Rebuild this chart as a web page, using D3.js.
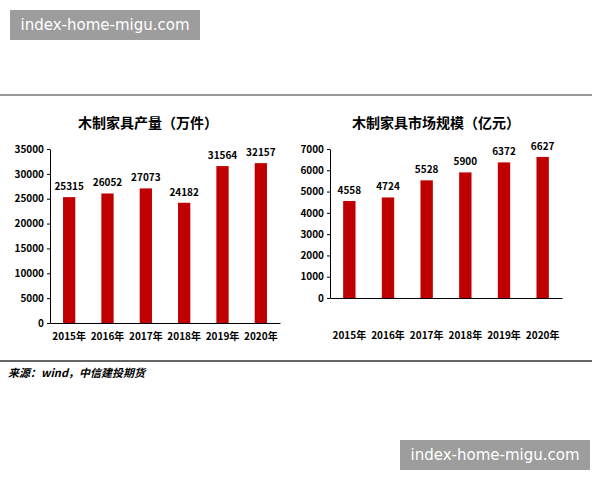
<!DOCTYPE html>
<html><head><meta charset="utf-8">
<script src="https://cdn.jsdelivr.net/npm/d3@7"></script>
<style>body{margin:0;background:#fff}text{font-family:"Noto Sans CJK SC",sans-serif}</style>
</head><body>
<script>
var years = ['2015年','2016年','2017年','2018年','2019年','2020年'];
var output = [25315, 26052, 27073, 24182, 31564, 32157];
var market = [4558, 4724, 5528, 5900, 6372, 6627];
var outTicks = [0,5000,10000,15000,20000,25000,30000,35000];
var mktTicks = [0,1000,2000,3000,4000,5000,6000,7000];
var red = '#c00000';

var svg = d3.select('body').append('svg').attr('width', 600).attr('height', 480);

svg.append('line').attr('x1', 0).attr('x2', 592).attr('y1', 95).attr('y2', 95).attr('stroke', '#333');
svg.append('line').attr('x1', 0).attr('x2', 592).attr('y1', 361).attr('y2', 361).attr('stroke', '#333').attr('stroke-width', 1.5);
svg.append('text').attr('x', 8).attr('y', 377).attr('font-size', 11).attr('font-weight', 'bold')
	.attr('font-style', 'italic').text('来源：wind，中信建投期货');

function chart(opts) {
	var x = d3.scaleBand().domain(years).range([opts.x0, opts.x1]).paddingInner(0.68).paddingOuter(0.34);
	var y = d3.scaleLinear().domain([0, opts.max]).range([opts.y0, 149]);
	var g = svg.append('g');
	g.append('text').attr('x', opts.tx).attr('y', 128).attr('text-anchor', 'middle')
		.attr('font-size', 14).attr('font-weight', 'bold').text(opts.title);
	var ya = g.append('g').attr('transform', 'translate(' + opts.x0 + ',0)')
		.call(d3.axisLeft(y).tickValues(opts.ticks).tickFormat(d3.format('d')).tickSize(3).tickSizeOuter(0));
	ya.selectAll('text').attr('font-size', 10).attr('font-weight', 'bold').attr('fill', '#000');
	var xa = g.append('g').attr('transform', 'translate(0,' + opts.y0 + ')')
		.call(d3.axisBottom(x).tickSize(0).tickPadding(opts.pad));
	xa.selectAll('text').attr('font-size', 10).attr('font-weight', 'bold').attr('fill', '#000');
	g.selectAll('path.domain').attr('stroke', '#000');
	g.selectAll('rect').data(opts.data).enter().append('rect')
		.attr('x', function(d, i) { return x(years[i]); })
		.attr('y', function(d) { return y(d); })
		.attr('width', x.bandwidth())
		.attr('height', function(d) { return opts.y0 - y(d); })
		.attr('fill', red);
	g.selectAll('.lbl').data(opts.data).enter().append('text')
		.attr('x', function(d, i) { return x(years[i]) + x.bandwidth() / 2; })
		.attr('y', function(d) { return y(d) - 7; })
		.attr('text-anchor', 'middle').attr('font-size', 10).attr('font-weight', 'bold').text(function(d) { return d; });
}

chart({ x0: 50, x1: 280, y0: 323, max: 35000, ticks: outTicks, data: output, title: '木制家具产量（万件）', tx: 148, pad: 10 });
chart({ x0: 330, x1: 562, y0: 298, max: 7000, ticks: mktTicks, data: market, title: '木制家具市场规模（亿元）', tx: 436, pad: 34 });

function mark(x, y) {
	svg.append('rect').attr('x', x).attr('y', y).attr('width', 190).attr('height', 30).attr('fill', '#8c8c8c').attr('opacity', 0.85);
	svg.append('text').attr('x', x + 95).attr('y', y + 20).attr('text-anchor', 'middle').attr('fill', '#fff')
		.attr('font-size', 15).style('font-family', 'DejaVu Sans').text('index-home-migu.com');
}
mark(10, 10);
mark(400, 440);
</script>
</body></html>
